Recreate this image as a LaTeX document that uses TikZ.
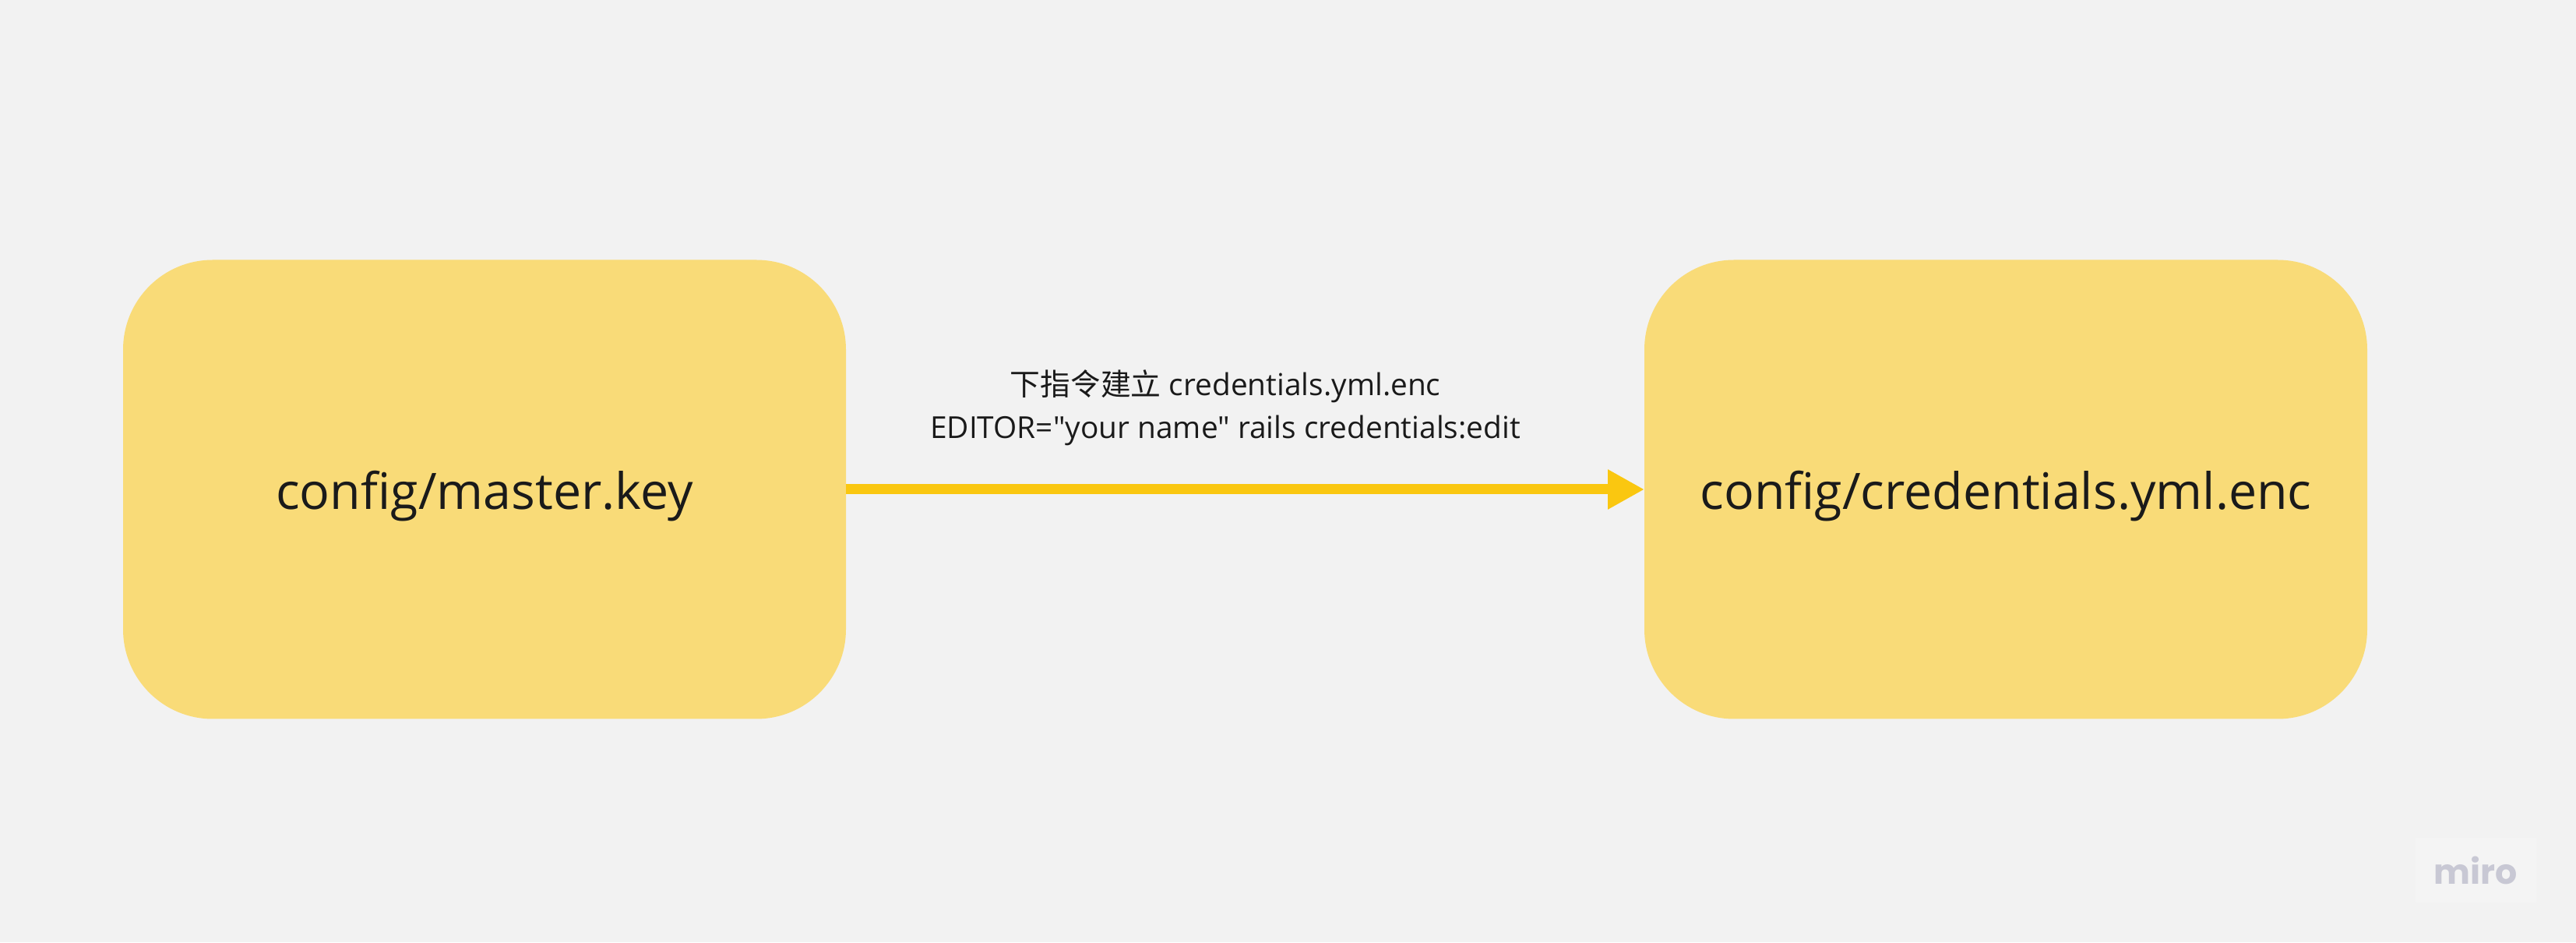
\documentclass[tikz,border=0pt]{standalone}
\usepackage{fontspec}
\newfontfamily\labelfont{Open Sans}
\newfontfamily\cjkfont{Noto Sans CJK TC}
\newfontfamily\logofont{Poppins}
\usepackage{xcolor}
\usetikzlibrary{arrows.meta}
\definecolor{pagegray}{HTML}{F2F2F2}
\definecolor{boxyellow}{HTML}{F9DB78}
\definecolor{arrowyellow}{HTML}{FAC710}
\definecolor{inkblack}{HTML}{1A1A1A}
\definecolor{logogray}{HTML}{C8C8D4}
\definecolor{logopatch}{HTML}{F4F4F4}
\tikzset{
  filebox/.style={fill=boxyellow,rounded corners=1.15cm,minimum width=9.28cm,minimum height=5.89cm,
    outer sep=0pt,inner sep=0pt,text=inkblack,text height=0.66cm,text depth=0.156cm,
    font=\labelfont\fontsize{18.35pt}{24pt}\selectfont},
  filearrow/.style={arrowyellow,line width=0.13cm,-{Triangle[length=0.47cm,width=0.48cm]}}
}

\begin{document}
\begin{tikzpicture}
    \useasboundingbox (0,0) rectangle (33.07,12.09);
    \fill[pagegray] (0,0) rectangle (33.07,12.09);
    \node[filebox] (masterkey) at (6.22,5.81) {config/master.key};
    \node[filebox] (credentials) at (25.75,5.81) {config/credentials.yml.enc};
    \draw[filearrow] (masterkey.east) -- (credentials.west);
    \node[align=center,text=inkblack,inner sep=0pt,font=\labelfont\fontsize{11.05pt}{15.7pt}\selectfont] (command) at (15.73,6.86)
      {{\cjkfont 下指令建立} credentials.yml.enc\\EDITOR="your name" rails credentials:edit};
    \node[fill=logopatch,minimum width=1.55cm,minimum height=0.83cm,inner sep=0pt] (logopatch) at (31.78,0.925) {};
    \node[text=logogray,inner sep=0pt,font=\logofont\bfseries\fontsize{12.6pt}{14pt}\selectfont] (logo) at (logopatch.center) {miro};
  \end{tikzpicture}
\end{document}
